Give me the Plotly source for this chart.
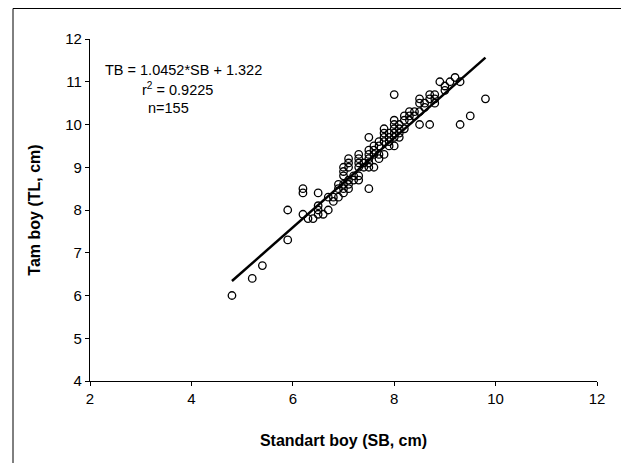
import plotly.graph_objects as go

# Standart boy (SB, cm) and Tam boy (TL, cm)
sb = [4.8, 5.2, 5.4, 5.9, 5.9, 6.2, 6.2, 6.2, 6.3, 6.4,
      6.5, 6.5, 6.5, 6.5, 6.6, 6.7, 6.7, 6.8, 6.8, 6.9,
      6.9, 6.9, 7.0, 7.0, 7.0, 7.0, 7.0, 7.0, 7.1, 7.1,
      7.1, 7.1, 7.1, 7.2, 7.2, 7.3, 7.3, 7.3, 7.3, 7.3,
      7.4, 7.4, 7.5, 7.5, 7.5, 7.5, 7.5, 7.5, 7.6, 7.6,
      7.6, 7.6, 7.7, 7.7, 7.7, 7.7, 7.8, 7.8, 7.8, 7.8,
      7.8, 7.9, 7.9, 7.9, 7.9, 8.0, 8.0, 8.0, 8.0, 8.0,
      8.0, 8.1, 8.1, 8.1, 8.1, 8.2, 8.2, 8.2, 8.3, 8.3,
      8.3, 8.4, 8.4, 8.5, 8.5, 8.5, 8.6, 8.6, 8.7, 8.7,
      8.8, 8.8, 8.9, 9.0, 9.0, 9.1, 9.2, 9.3, 9.3, 9.5,
      9.8, 8.8, 8.7, 8.5, 8.0, 7.3, 7.1, 7.5]
tl = [6.0, 6.4, 6.7, 7.3, 8.0, 8.4, 8.5, 7.9, 7.8, 7.8,
      8.4, 8.1, 8.0, 7.9, 7.9, 8.0, 8.3, 8.2, 8.3, 8.6,
      8.5, 8.3, 8.5, 8.6, 8.8, 8.9, 9.0, 8.4, 9.1, 9.0,
      8.7, 8.6, 8.5, 8.8, 8.7, 9.2, 9.1, 9.0, 8.8, 8.7,
      9.0, 9.1, 8.5, 9.3, 9.1, 9.7, 9.2, 9.0, 9.3, 9.5,
      9.0, 9.4, 9.2, 9.5, 9.3, 9.6, 9.3, 9.6, 9.8, 9.9,
      9.7, 9.6, 9.7, 9.5, 9.8, 10.7, 10.0, 9.8, 9.7, 9.5,
      9.9, 9.9, 9.7, 9.8, 10.0, 10.2, 10.1, 9.9, 10.3, 10.1,
      10.2, 10.2, 10.3, 10.0, 10.5, 10.3, 10.4, 10.5, 10.6, 10.0,
      10.6, 10.5, 11.0, 10.8, 10.9, 11.0, 11.1, 11.0, 10.0, 10.2,
      10.6, 10.7, 10.7, 10.6, 10.1, 9.3, 9.2, 9.4]

slope = 1.0452
intercept = 1.322
x_ticks = [2, 4, 6, 8, 10, 12]
y_ticks = [4, 5, 6, 7, 8, 9, 10, 11, 12]

FONT = "Liberation Sans, Arial, sans-serif"

line_x = [min(sb), max(sb)]
line_y = [slope * v + intercept for v in line_x]

# figure is shown with the page's default 8px body margin
W, H = 621, 455
L, R, T, B = 82, 32, 31, 82
PW, PH = W - L - R, H - T - B

fig = go.Figure()
fig.add_trace(go.Scatter(
    x=line_x, y=line_y, mode="lines",
    line=dict(color="black", width=2.5), hoverinfo="skip", showlegend=False))
fig.add_trace(go.Scatter(
    x=sb, y=tl, mode="markers",
    marker=dict(symbol="circle-open", size=7.5, color="black", line=dict(width=1.3)),
    showlegend=False))

fig.update_layout(
    width=W, height=H,
    margin=dict(l=L, r=R, t=T, b=B),
    paper_bgcolor="white", plot_bgcolor="white",
    font=dict(family=FONT, size=15, color="black"),
    xaxis=dict(range=[2, 12], tickvals=x_ticks, showgrid=False, zeroline=False,
               showline=True, linecolor="black", linewidth=1.2,
               ticks="outside", ticklen=4, tickcolor="black", tickwidth=1.2,
               tickfont=dict(size=15),
               title=dict(text="<b>Standart boy (SB, cm)</b>", font=dict(size=16), standoff=28)),
    yaxis=dict(range=[4, 12], tickvals=y_ticks, showgrid=False, zeroline=False,
               showline=True, linecolor="black", linewidth=1.2,
               ticks="outside", ticklen=4, tickcolor="black", tickwidth=1.2,
               tickfont=dict(size=15),
               title=dict(text="<b>Tam boy (TL, cm)</b>", font=dict(size=16), standoff=20)),
    shapes=[dict(type="rect", xref="paper", yref="paper",
                 x0=(5 - L) / PW, x1=(614 - L) / PW,
                 y0=(T + PH - 470) / PH, y1=(T + PH - 0.5) / PH,
                 line=dict(color="black", width=1), fillcolor="rgba(0,0,0,0)", layer="above")],
    annotations=[
        dict(x=2.26, y=11.27, xref="x", yref="y", text="TB = 1.0452*SB + 1.322",
             showarrow=False, xanchor="left", yanchor="middle", font=dict(size=14.5)),
        dict(x=2.98, y=10.83, xref="x", yref="y", text="r<sup>2</sup> = 0.9225",
             showarrow=False, xanchor="left", yanchor="middle", font=dict(size=14.5)),
        dict(x=3.1, y=10.39, xref="x", yref="y", text="n=155",
             showarrow=False, xanchor="left", yanchor="middle", font=dict(size=14.5)),
    ],
)

fig.write_html("out.html")
